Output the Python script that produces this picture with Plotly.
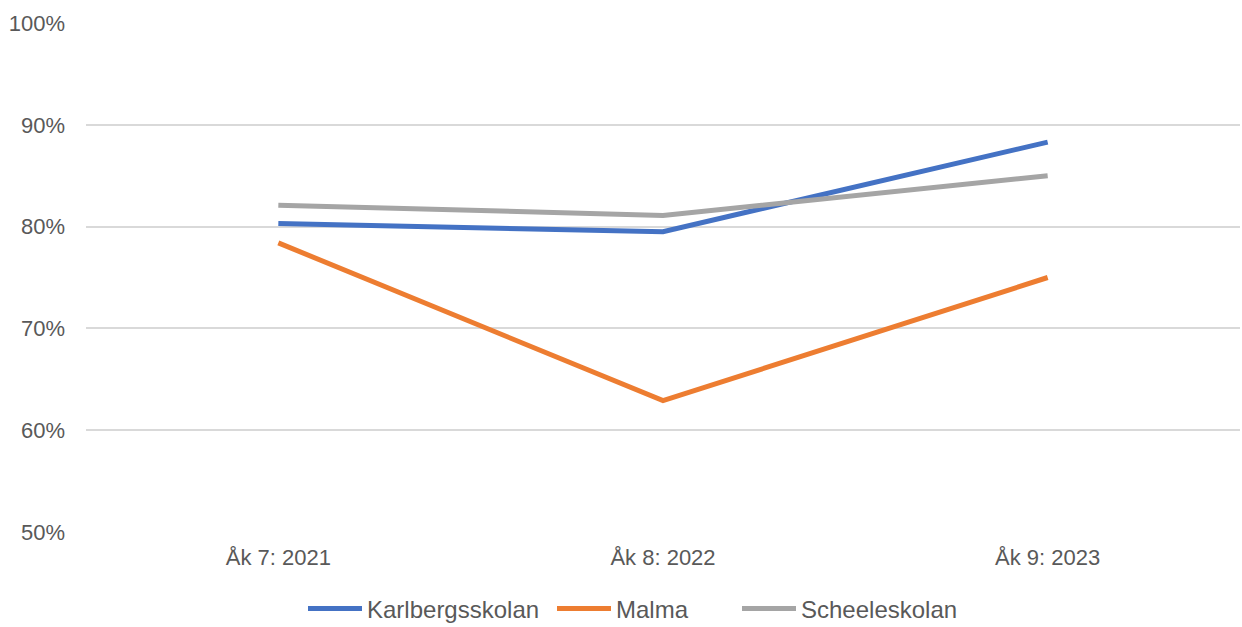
import plotly.graph_objects as go

categories = ["Åk 7: 2021", "Åk 8: 2022", "Åk 9: 2023"]
karlberg = [0.803, 0.795, 0.883]
malma = [0.784, 0.629, 0.750]
scheele = [0.821, 0.811, 0.850]

series = [
    ("Karlbergsskolan", karlberg, "#4472C4", "legend", 303),
    ("Malma", malma, "#ED7D31", "legend2", 552),
    ("Scheeleskolan", scheele, "#A5A5A5", "legend3", 737),
]

W, H = 1242, 627
fig = go.Figure()
legend_cfg = {}
for name, vals, color, leg, px in series:
    fig.add_trace(go.Scatter(
        x=categories, y=vals, name=name, mode="lines",
        line=dict(color=color, width=5), legend=leg,
    ))
    legend_cfg[leg] = dict(orientation="h", xref="container", yref="container",
                           x=px / W, xanchor="left", y=1 - 609 / H, yanchor="middle",
                           font=dict(size=24, color="#595959"), itemwidth=54,
                           bgcolor="rgba(0,0,0,0)")

fig.update_layout(
    width=W, height=H,
    margin=dict(l=86, r=2, t=23, b=95),
    paper_bgcolor="white", plot_bgcolor="white",
    font=dict(family="Liberation Sans, Arial, sans-serif", size=22, color="#595959"),
    xaxis=dict(range=[-0.5, 2.5], showgrid=False, showline=False, zeroline=False, ticks="",
               ticklabelstandoff=10,
               tickfont=dict(size=22, color="#595959")),
    yaxis=dict(range=[0.5, 1.0], dtick=0.1, tickformat=".0%",
               showgrid=True, gridcolor="#D9D9D9", gridwidth=1.5,
               zeroline=False, showline=False, ticks="", ticklen=0,
               ticklabelstandoff=20,
               tickfont=dict(size=22, color="#595959")),
    showlegend=True,
    **legend_cfg,
)

fig.write_html("out.html", config={"displayModeBar": False},
               post_script="document.body.style.margin='0';")
